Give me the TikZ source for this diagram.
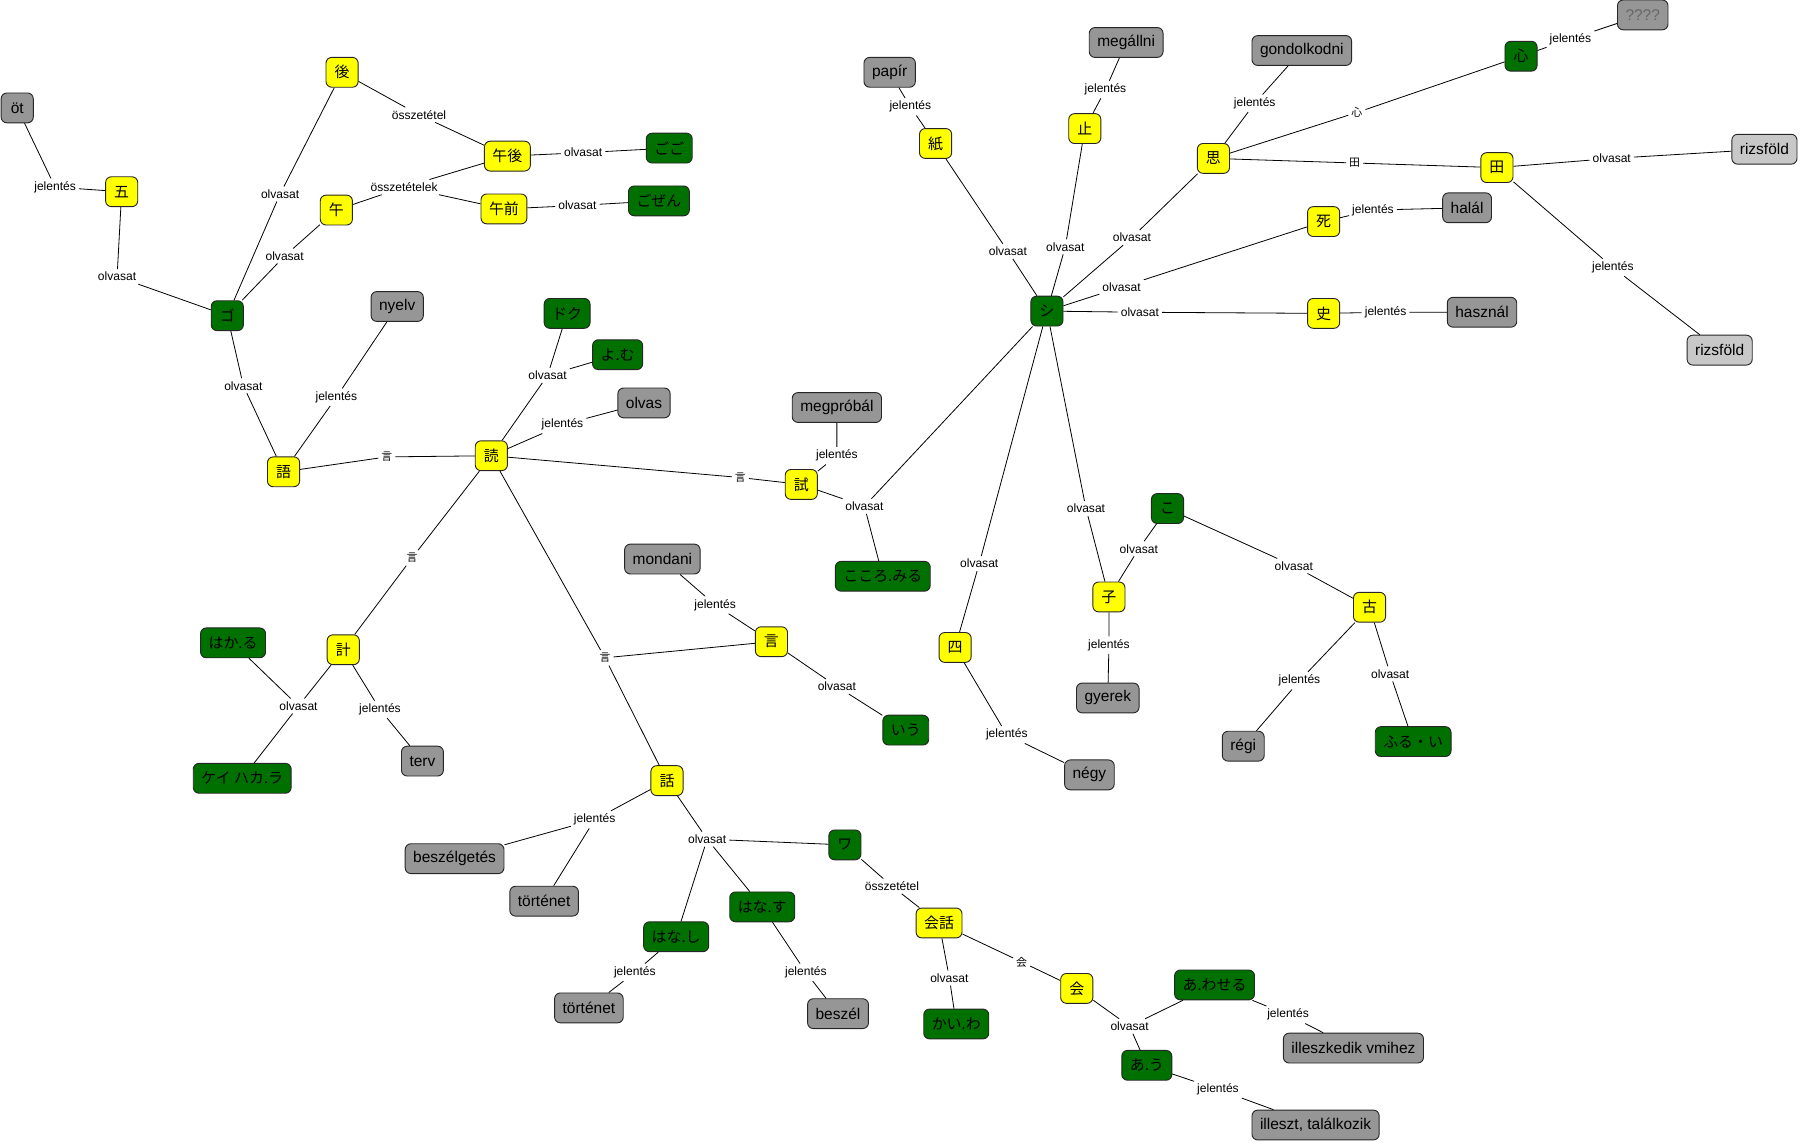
\documentclass[tikz,border=0pt]{standalone}
\usepackage{fontspec}
\setmainfont{Liberation Sans}
\newfontfamily\jpfont{Noto Sans CJK JP}
\usepackage{xcolor}
\usepackage{tikz}

\definecolor{kanjiyellow}{RGB}{255,255,0}
\definecolor{yomigreen}{RGB}{0,112,0}
\definecolor{imigray}{RGB}{150,150,150}
\definecolor{imilight}{RGB}{200,200,200}

\begin{document}
\begin{tikzpicture}[
  x=1pt, y=-1pt,
  concept/.style={draw=black!85, line width=0.8pt, rounded corners=5pt, align=center, minimum width=28pt, minimum height=26pt, inner xsep=7pt, inner ysep=2pt, font=\fontsize{13.5}{15}\selectfont},
  kanji/.style={concept, fill=kanjiyellow, font=\jpfont\fontsize{13}{15}\selectfont},
  yomi/.style={concept, fill=yomigreen, font=\jpfont\fontsize{13}{15}\selectfont},
  imi/.style={concept, fill=imigray},
  imilt/.style={concept, fill=imilight},
  rel/.style={font=\fontsize{10.5}{12}\selectfont, inner sep=2.5pt},
  jrel/.style={rel, font=\jpfont\fontsize{9.5}{11}\selectfont},
  link/.style={line width=0.7pt},
]
\useasboundingbox (0,0) rectangle (1568,995);

% ---------- LEFT: 五, 後, 午 and ゴ ----------
\node[imi]   (oet)    at (15,94)   {öt};
\node[kanji] (go5)    at (106,167) {五};
\node[rel]   (l1)     at (48,163)  {jelentés};
\node[rel]   (l2)     at (102,241) {olvasat};
\node[yomi]  (goY)    at (198,275) {ゴ};
\node[kanji] (ato)    at (298,63)  {後};
\node[rel]   (l3)     at (244,169) {olvasat};
\node[kanji] (uma)    at (293,183) {午};
\node[rel]   (l4)     at (248,223) {olvasat};
\node[rel]   (l5)     at (365,100) {összetétel};
\node[kanji] (gogo)   at (442,136) {午後};
\node[rel]   (l6)     at (352,163) {összetételek};
\node[kanji] (gozen)  at (439,182) {午前};
\node[rel]   (l7)     at (508,133) {olvasat};
\node[yomi]  (gogoY)  at (583,129) {ごご};
\node[rel]   (l8)     at (503,179) {olvasat};
\node[yomi]  (gozenY) at (574,175) {ごぜん};

% ---------- MIDDLE: 語, 読, 試, 計, 言, 話 ----------
\node[imi]   (nyelv)  at (346,267) {nyelv};
\node[rel]   (l9)     at (293,346) {jelentés};
\node[rel]   (l10)    at (212,336) {olvasat};
\node[kanji] (kataru) at (247,411) {語};
\node[jrel]  (l11)    at (337,398) {言};
\node[kanji] (yomu)   at (428,397) {読};
\node[yomi]  (dokuY)  at (494,273) {ドク};
\node[yomi]  (yomuY)  at (538,309) {よ.む};
\node[rel]   (l12)    at (477,327) {olvasat};
\node[imi]   (olvas)  at (561,351) {olvas};
\node[rel]   (l13)    at (490,370) {jelentés};
\node[jrel]  (l14)    at (645,416) {言};
\node[kanji] (tame)   at (698,422) {試};
\node[imi]   (megpr)  at (729,355) {megpróbál};
\node[rel]   (l15)    at (729,397) {jelentés};
\node[rel]   (l16)    at (753,441) {olvasat};
\node[yomi]  (kokoroY) at (769,502) {こころ.みる};
\node[jrel]  (l17)    at (359,486) {言};
\node[kanji] (kei)    at (299,566) {計};
\node[yomi]  (hakaruY) at (203,560) {はか.る};
\node[rel]   (l18)    at (260,615) {olvasat};
\node[yomi]  (keiY)   at (211,678) {ケイ ハカ.ラ};
\node[rel]   (l19)    at (331,618) {jelentés};
\node[imi]   (terv)   at (368,663) {terv};
\node[jrel]  (l20)    at (527,573) {言};
\node[imi]   (mondani) at (577,487) {mondani};
\node[rel]   (l21)    at (623,527) {jelentés};
\node[kanji] (iu)     at (672,559) {言};
\node[rel]   (l22)    at (729,598) {olvasat};
\node[yomi]  (iuY)    at (789,636) {いう};
\node[kanji] (hanashi) at (581,680) {話};
\node[rel]   (l23)    at (518,714) {jelentés};
\node[imi]   (beszelg) at (396,748) {beszélgetés};
\node[imi]   (tort)   at (474,785) {történet};
\node[rel]   (l24)    at (616,731) {olvasat};
\node[yomi]  (waY)    at (736,736) {ワ};
\node[yomi]  (hanashiY) at (589,816) {はな.し};
\node[yomi]  (hanasuY) at (664,790) {はな.す};
\node[rel]   (l25)    at (553,847) {jelentés};
\node[imi]   (tortb)  at (513,878) {történet};
\node[rel]   (l26)    at (702,847) {jelentés};
\node[imi]   (beszel) at (730,883) {beszél};
\node[rel]   (l27)    at (777,772) {összetétel};
\node[kanji] (kaiwa)  at (818,804) {会話};
\node[rel]   (l28)    at (827,852) {olvasat};
\node[yomi]  (kaiwaY) at (833,892) {かい.わ};
\node[jrel]  (l29)    at (890,838) {会};
\node[kanji] (au)     at (938,861) {会};
\node[rel]   (l30)    at (984,894) {olvasat};
\node[yomi]  (awaseY) at (1058,858) {あ.わせる};
\node[rel]   (l31)    at (1122,884) {jelentés};
\node[imi]   (illk)   at (1179,913) {illeszkedik vmihez};
\node[yomi]  (auY)    at (999,928) {あ.う};
\node[rel]   (l32)    at (1061,949) {jelentés};
\node[imi]   (illt)   at (1146,980) {illeszt, találkozik};

% ---------- RIGHT: everything read シ ----------
\node[yomi]  (shiY)   at (912,271) {シ};
\node[kanji] (kami)   at (815,125) {紙};
\node[rel]   (l33)    at (878,219) {olvasat};
\node[rel]   (l34)    at (793,93)  {jelentés};
\node[imi]   (papir)  at (775,63)  {papír};
\node[kanji] (tomaru) at (945,112) {止};
\node[rel]   (l35)    at (928,215) {olvasat};
\node[rel]   (l36)    at (963,78)  {jelentés};
\node[imi]   (megall) at (981,37)  {megállni};
\node[kanji] (omou)   at (1057,138) {思};
\node[rel]   (l37)    at (986,207) {olvasat};
\node[rel]   (l38)    at (1093,90) {jelentés};
\node[imi]   (gondol) at (1134,44) {gondolkodni};
\node[jrel]  (l39)    at (1182,98) {心};
\node[yomi]  (shin)   at (1325,49) {心};
\node[rel]   (l40)    at (1368,34) {jelentés};
\node[imi, text=black!60] (qq) at (1431,13) {????};
\node[jrel]  (l41)    at (1180,142) {田};
\node[kanji] (ta)     at (1304,146) {田};
\node[rel]   (l42)    at (1404,138) {olvasat};
\node[imilt] (rizsa)  at (1537,130) {rizsföld};
\node[rel]   (l43)    at (1405,233) {jelentés};
\node[imilt] (rizsb)  at (1498,305) {rizsföld};
\node[kanji] (shinu)  at (1153,193) {死};
\node[rel]   (l44)    at (977,250) {olvasat};
\node[rel]   (l45)    at (1196,183) {jelentés};
\node[imi]   (halal)  at (1278,181) {halál};
\node[kanji] (fumi)   at (1153,273) {史};
\node[rel]   (l46)    at (993,272) {olvasat};
\node[rel]   (l47)    at (1207,272) {jelentés};
\node[imi]   (haszn)  at (1291,272) {használ};
\node[kanji] (yon)    at (832,564) {四};
\node[rel]   (l48)    at (853,491) {olvasat};
\node[rel]   (l49)    at (877,640) {jelentés};
\node[imi]   (negy)   at (949,675) {négy};
\node[kanji] (ko)     at (966,520) {子};
\node[rel]   (l50)    at (946,443) {olvasat};
\node[rel]   (l51)    at (992,478) {olvasat};
\node[yomi]  (koY)    at (1017,443) {こ};
\node[rel]   (l52)    at (1127,493) {olvasat};
\node[kanji] (furui)  at (1193,529) {古};
\node[rel]   (l53)    at (966,562) {jelentés};
\node[imi]   (gyerek) at (965,608) {gyerek};
\node[rel]   (l54)    at (1132,593) {jelentés};
\node[imi]   (regi)   at (1083,650) {régi};
\node[rel]   (l55)    at (1211,587) {olvasat};
\node[yomi]  (furuiY) at (1231,646) {ふる・い};

% ---------- LINKS ----------
\draw[link] (go5) -- (l1) -- (oet);
\draw[link] (go5) -- (l2) -- (goY);
\draw[link] (ato) -- (l3) -- (goY);
\draw[link] (uma) -- (l4) -- (goY);
\draw[link] (ato) -- (l5) -- (gogo);
\draw[link] (uma) -- (l6) -- (gogo);
\draw[link] (l6) -- (gozen);
\draw[link] (gogo) -- (l7) -- (gogoY);
\draw[link] (gozen) -- (l8) -- (gozenY);
\draw[link] (kataru) -- (l9) -- (nyelv);
\draw[link] (kataru) -- (l10) -- (goY);
\draw[link] (kataru) -- (l11) -- (yomu);
\draw[link] (yomu) -- (l12) -- (dokuY);
\draw[link] (l12) -- (yomuY);
\draw[link] (yomu) -- (l13) -- (olvas);
\draw[link] (yomu) -- (l14) -- (tame);
\draw[link] (tame) -- (l15) -- (megpr);
\draw[link] (tame) -- (l16) -- (kokoroY);
\draw[link] (l16) -- (shiY);
\draw[link] (yomu) -- (l17) -- (kei);
\draw[link] (kei) -- (l18) -- (hakaruY);
\draw[link] (l18) -- (keiY);
\draw[link] (kei) -- (l19) -- (terv);
\draw[link] (yomu) -- (l20) -- (hanashi);
\draw[link] (l20) -- (iu);
\draw[link] (iu) -- (l21) -- (mondani);
\draw[link] (iu) -- (l22) -- (iuY);
\draw[link] (hanashi) -- (l23) -- (beszelg);
\draw[link] (l23) -- (tort);
\draw[link] (hanashi) -- (l24) -- (waY);
\draw[link] (l24) -- (hanashiY);
\draw[link] (l24) -- (hanasuY);
\draw[link] (hanashiY) -- (l25) -- (tortb);
\draw[link] (hanasuY) -- (l26) -- (beszel);
\draw[link] (waY) -- (l27) -- (kaiwa);
\draw[link] (kaiwa) -- (l28) -- (kaiwaY);
\draw[link] (kaiwa) -- (l29) -- (au);
\draw[link] (au) -- (l30) -- (awaseY);
\draw[link] (l30) -- (auY);
\draw[link] (awaseY) -- (l31) -- (illk);
\draw[link] (auY) -- (l32) -- (illt);
\draw[link] (kami) -- (l33) -- (shiY);
\draw[link] (kami) -- (l34) -- (papir);
\draw[link] (tomaru) -- (l35) -- (shiY);
\draw[link] (tomaru) -- (l36) -- (megall);
\draw[link] (omou) -- (l37) -- (shiY);
\draw[link] (omou) -- (l38) -- (gondol);
\draw[link] (omou) -- (l39) -- (shin);
\draw[link] (shin) -- (l40) -- (qq);
\draw[link] (omou) -- (l41) -- (ta);
\draw[link] (ta) -- (l42) -- (rizsa);
\draw[link] (ta) -- (l43) -- (rizsb);
\draw[link] (shinu) -- (l44) -- (shiY);
\draw[link] (shinu) -- (l45) -- (halal);
\draw[link] (fumi) -- (l46) -- (shiY);
\draw[link] (fumi) -- (l47) -- (haszn);
\draw[link] (yon) -- (l48) -- (shiY);
\draw[link] (yon) -- (l49) -- (negy);
\draw[link] (ko) -- (l50) -- (shiY);
\draw[link] (ko) -- (l51) -- (koY);
\draw[link] (furui) -- (l52) -- (koY);
\draw[link] (ko) -- (l53) -- (gyerek);
\draw[link] (furui) -- (l54) -- (regi);
\draw[link] (furui) -- (l55) -- (furuiY);
\end{tikzpicture}
\end{document}
